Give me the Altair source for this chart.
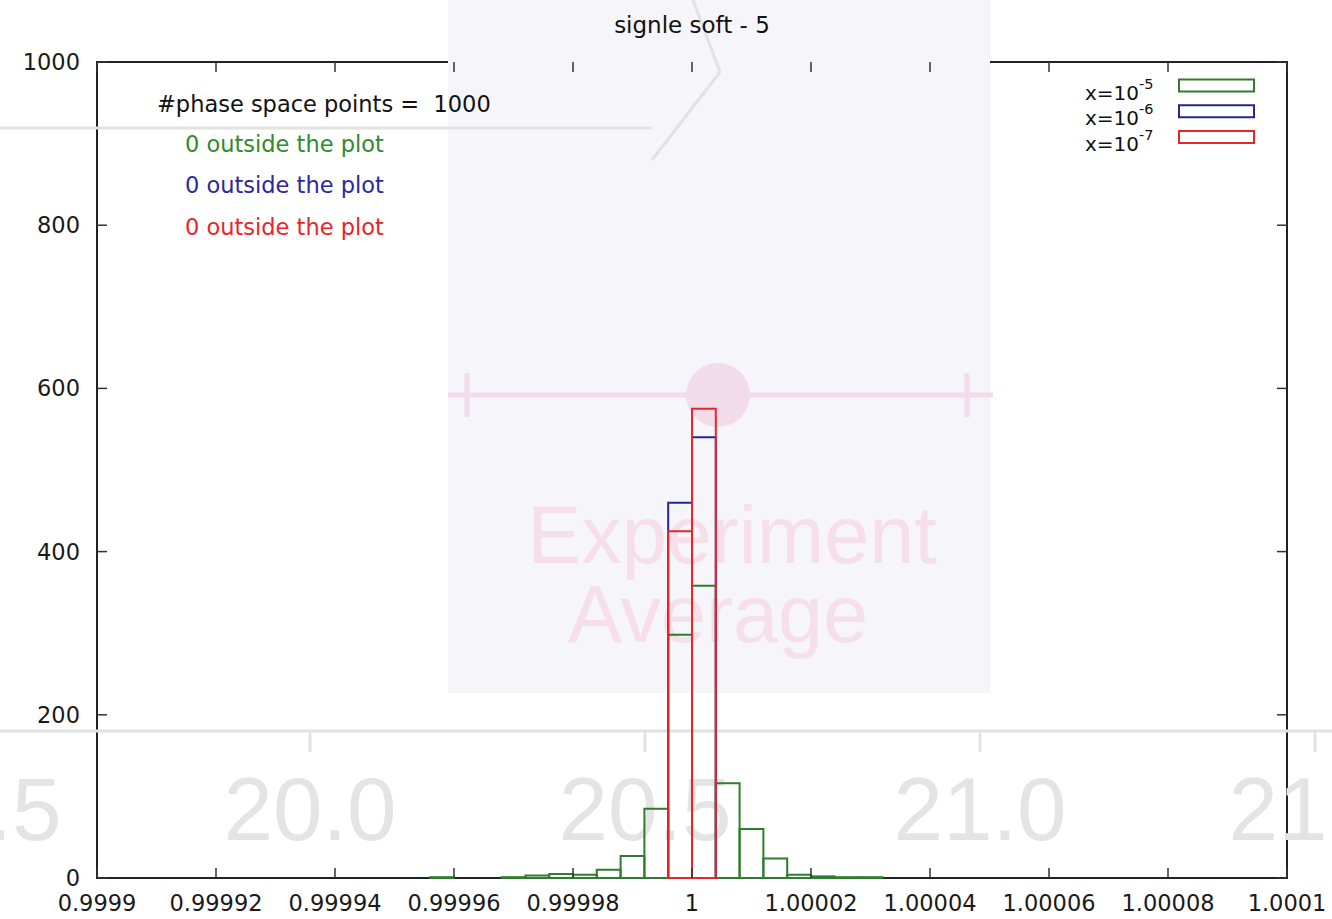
import altair as alt
import pandas as pd

# ---------------- data ----------------
series = ["x=10^-5", "x=10^-6", "x=10^-7"]
series_colors = ["#2e7d2e", "#26268f", "#e8262a"]
text_colors = ["#2e8b2e", "#2a2a9a", "#e8262a"]
legend_base = ["x=10", "x=10", "x=10"]
legend_sup = ["-5", "-6", "-7"]

bin_width = 4e-6
green_bin_left = [0.999956, 0.999968, 0.999972, 0.999976, 0.99998, 0.999984,
                  0.999988, 0.999992, 0.999996, 1.0, 1.000004, 1.000008,
                  1.000012, 1.000016, 1.00002, 1.000024, 1.000028]
green_counts = [1, 1, 3, 5, 4, 10, 27, 85, 298, 358, 116, 60, 24, 4, 2, 1, 1]
blue_bin_left = [0.999996, 1.0]
blue_counts = [460, 540]
red_bin_left = [0.999996, 1.0]
red_counts = [425, 575]

x_ticks = [0.9999, 0.99992, 0.99994, 0.99996, 0.99998, 1.0,
           1.00002, 1.00004, 1.00006, 1.00008, 1.0001]
x_tick_labels = ["0.9999", "0.99992", "0.99994", "0.99996", "0.99998", "1",
                 "1.00002", "1.00004", "1.00006", "1.00008", "1.0001"]
y_ticks = [0, 200, 400, 600, 800, 1000]
y_tick_labels = ["0", "200", "400", "600", "800", "1000"]

title_text = "signle soft - 5"
info_text = "#phase space points =\u00a0 1000"
outside_text = "0 outside the plot"

# background (screenshot overlay) texts
bg_numbers = ["19.5", "20.0", "20.5", "21.0", "21.5"]
bg_words = ["Experiment", "Average"]

# ---------------- layout ----------------
WIN_W, WIN_H = 1332, 919
L, T = 97, 62
W, H = 1190, 816
FONT = "DejaVu Sans"
BG_FONT = "Liberation Sans"
X_DOMAIN = [0.9999, 1.0001]
Y_DOMAIN = [0, 1000]


def px(x):
    return x - L


def py(y):
    return y - T


one = pd.DataFrame({"a": [0]})

rows = []
for name, lefts, counts in [(series[0], green_bin_left, green_counts),
                            (series[1], blue_bin_left, blue_counts),
                            (series[2], red_bin_left, red_counts)]:
    for lo, c in zip(lefts, counts):
        rows.append({"series": name, "lo": lo, "hi": lo + bin_width,
                     "count": c, "base": 0})
hist_df = pd.DataFrame(rows)

xs = alt.Scale(domain=X_DOMAIN, nice=False, zero=False)
ys = alt.Scale(domain=Y_DOMAIN, nice=False)

layers = []


def rule(x1, y1, x2, y2, color, width):
    return alt.Chart(one).mark_rule(color=color, strokeWidth=width).encode(
        x=alt.value(px(x1)), y=alt.value(py(y1)),
        x2=alt.value(px(x2)), y2=alt.value(py(y2)))


def text(t, x, y, size, color, align="left", font=FONT):
    return alt.Chart(one).mark_text(
        text=t, font=font, fontSize=size, color=color, align=align,
        baseline="alphabetic").encode(x=alt.value(px(x)), y=alt.value(py(y)))


# ---- faint background overlay ----
layers.append(alt.Chart(one).mark_rect(color="#f6f5f9").encode(
    x=alt.value(px(448)), x2=alt.value(px(990)),
    y=alt.value(py(0)), y2=alt.value(py(693))))
grey = "#e2e2e2"
layers.append(rule(0, 128, 652, 128, grey, 3))
layers.append(rule(693, 0, 720, 72, grey, 3))
layers.append(rule(720, 72, 652, 160, grey, 3))
layers.append(rule(0, 731, 1332, 731, grey, 3))
for i, lab in enumerate(bg_numbers):
    cx = -25 + 335 * i
    layers.append(rule(cx, 731, cx, 752, grey, 3))
    layers.append(text(lab, cx, 840, 89, "#e4e4e4", align="center",
                       font=BG_FONT))
pink = "#f3dce9"
layers.append(rule(448, 395, 993, 395, pink, 5))
layers.append(rule(467, 373, 467, 417, pink, 5))
layers.append(rule(967, 373, 967, 417, pink, 5))
layers.append(alt.Chart(one).mark_point(filled=True, color=pink, opacity=1,
                                        size=4096, shape="circle").encode(
    x=alt.value(px(718)), y=alt.value(py(395))))
layers.append(text(bg_words[0], 732, 563, 81, "#f6dfe9", align="center",
                   font=BG_FONT))
layers.append(text(bg_words[1], 718, 642, 81, "#f6dfe9", align="center",
                   font=BG_FONT))

# ---- histogram ----
hist = alt.Chart(hist_df).mark_rect(fill="transparent", strokeWidth=2).encode(
    x=alt.X("lo:Q", scale=xs, axis=None),
    x2="hi:Q",
    y=alt.Y("count:Q", scale=ys, axis=None),
    y2="base:Q",
    stroke=alt.Stroke("series:N",
                      scale=alt.Scale(domain=series, range=series_colors),
                      legend=None),
)
layers.append(hist)

# ---- inward ticks on all four sides, and tick labels ----
xt = pd.DataFrame({"t": x_ticks, "label": x_tick_labels})
yt = pd.DataFrame({"t": y_ticks, "label": y_tick_labels})
tick_col = "#333333"
layers.append(alt.Chart(xt).mark_rule(color=tick_col, strokeWidth=1.5).encode(
    x=alt.X("t:Q", scale=xs, axis=None), y=alt.value(H), y2=alt.value(H - 10)))
layers.append(alt.Chart(xt).mark_rule(color=tick_col, strokeWidth=1.5).encode(
    x=alt.X("t:Q", scale=xs, axis=None), y=alt.value(0), y2=alt.value(10)))
layers.append(alt.Chart(yt).mark_rule(color=tick_col, strokeWidth=1.5).encode(
    y=alt.Y("t:Q", scale=ys, axis=None), x=alt.value(0), x2=alt.value(10)))
layers.append(alt.Chart(yt).mark_rule(color=tick_col, strokeWidth=1.5).encode(
    y=alt.Y("t:Q", scale=ys, axis=None), x=alt.value(W), x2=alt.value(W - 10)))

layers.append(alt.Chart(xt).mark_text(
    font=FONT, fontSize=22.5, color="#1a1a1a", align="center",
    baseline="alphabetic").encode(
    x=alt.X("t:Q", scale=xs, axis=None), y=alt.value(H + 33),
    text="label:N"))
layers.append(alt.Chart(yt).mark_text(
    font=FONT, fontSize=22.5, color="#1a1a1a", align="right",
    baseline="middle", dy=1).encode(
    y=alt.Y("t:Q", scale=ys, axis=None), x=alt.value(-17),
    text="label:N"))

# ---- title and annotations ----
layers.append(text(title_text, 692, 32.5, 23, "#111111", align="center"))
layers.append(text(info_text, 157, 111.5, 22.5, "#111111"))
for i in range(3):
    layers.append(text(outside_text, 185, 151.5 + 41.7 * i, 22.5,
                       text_colors[i]))

# ---- legend ----
for i in range(3):
    base_y = 99.5 + 25.8 * i
    layers.append(text(legend_base[i], 1139, base_y, 20, "#111111",
                       align="right"))
    layers.append(text(legend_sup[i], 1139, base_y - 11, 14.5, "#111111"))
    layers.append(alt.Chart(one).mark_rect(
        fill="transparent", stroke=series_colors[i], strokeWidth=2).encode(
        x=alt.value(px(1179)), x2=alt.value(px(1254)),
        y=alt.value(py(base_y - 20)), y2=alt.value(py(base_y - 8))))

chart = alt.layer(*layers).properties(
    width=W, height=H,
    padding={"left": L, "top": T, "right": WIN_W - L - W,
             "bottom": WIN_H - T - H},
    autosize=alt.AutoSizeParams(type="none"),
    background="white",
).configure_view(stroke="#222222", strokeWidth=2)

chart.save("out.html", embed_options={"renderer": "svg", "actions": False})
